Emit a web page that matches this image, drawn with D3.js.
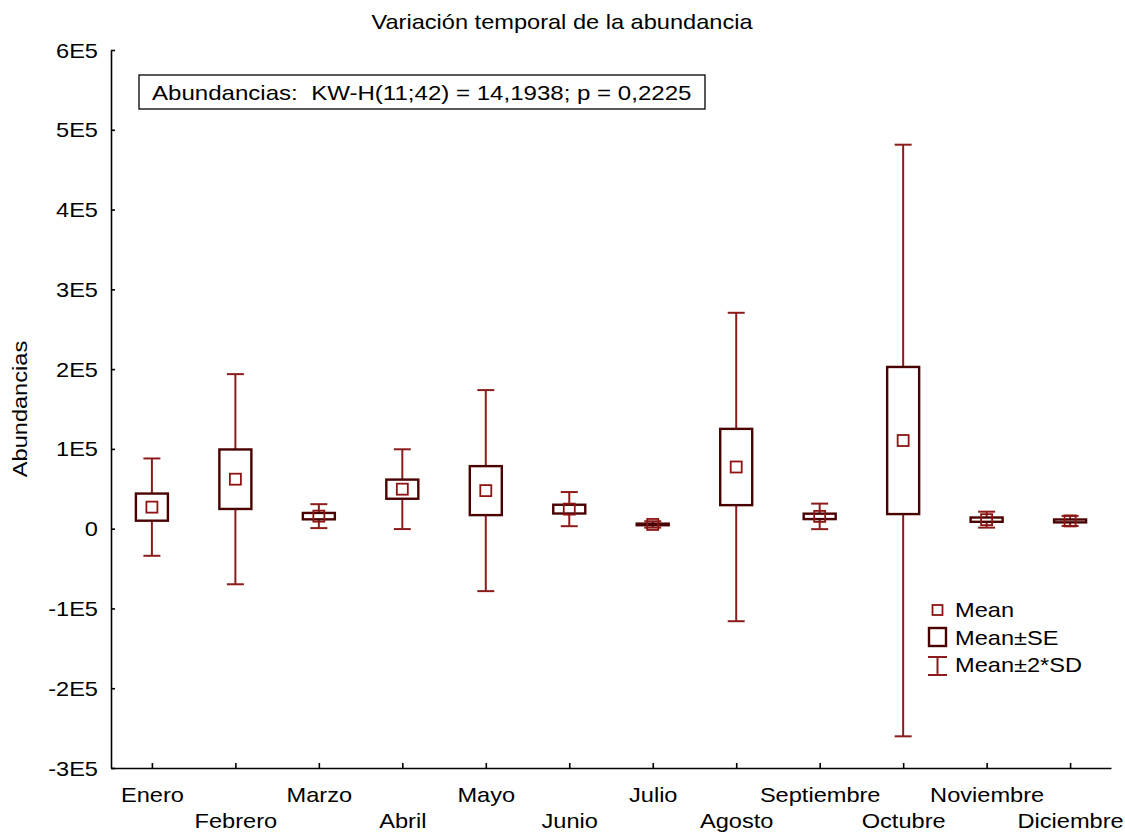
<!DOCTYPE html>
<html>
<head>
<meta charset="utf-8">
<script src="https://cdn.jsdelivr.net/npm/d3@7"></script>
<style>
  body { margin: 0; background: #fff; }
  text { font-family: "Liberation Sans", Arial, sans-serif; fill: #000; white-space: pre; }
</style>
</head>
<body>
<svg id="chart" width="1125" height="835"></svg>
<script>
// months on the x axis
months = ['Enero', 'Febrero', 'Marzo', 'Abril', 'Mayo', 'Junio', 'Julio',
          'Agosto', 'Septiembre', 'Octubre', 'Noviembre', 'Diciembre']
// mean, standard error and 2*SD per month
means = [27000, 62000, 15700, 49500, 47700, 24500, 5300, 77300, 15400, 110500, 11300, 9700]
se    = [17000, 37300, 4000, 12000, 30700, 5500, 1000, 47800, 3400, 92200, 2700, 1800]
sd2   = [61000, 131700, 15000, 50000, 126000, 21400, 4000, 193300, 16000, 370800, 10000, 6300]
yTicks = [-3e5, -2e5, -1e5, 0, 1e5, 2e5, 3e5, 4e5, 5e5, 6e5]
yTickLabels = ['-3E5', '-2E5', '-1E5', '0', '1E5', '2E5', '3E5', '4E5', '5E5', '6E5']
legendLabels = ['Mean', 'Mean\u00b1SE', 'Mean\u00b12*SD']
statsText = 'Abundancias:  KW-H(11;42) = 14,1938; p = 0,2225'
title = 'Variaci\u00f3n temporal de la abundancia'
yLabel = 'Abundancias'

whiskerColour = '#8c1c1c'
boxColour = '#4a0000'
meanColour = '#8e1414'
fs = 20
sx = 1.18

svg = d3.select('#chart')

x = d3.scaleLinear().domain([0.51, 12.49]).range([111, 1111])
y = d3.scaleLinear().domain([-3e5, 6e5]).range([768, 50])

function label(g, tx, ty, str, anchor, size) {
  return g.append('text')
          .attr('transform', 'translate(' + tx + ',' + ty + ') scale(' + sx + ',1)')
          .attr('text-anchor', anchor || 'start')
          .style('font-size', (size || fs) + 'px')
          .text(str)
}

// axes
yAxis = svg.append('g')
           .attr('transform', 'translate(111,0)')
           .call(d3.axisLeft(y)
                   .tickValues(yTicks)
                   .tickFormat(function(d, i) { return yTickLabels[i] })
                   .tickSizeInner(-4)
                   .tickSizeOuter(0)
                   .tickPadding(13))
yAxis.selectAll('text').remove()
yAxis.selectAll('.tick').each(function(d, i) {
  label(d3.select(this), -13, 7, yTickLabels[i], 'end')
})

xAxis = svg.append('g')
           .attr('transform', 'translate(0,768)')
           .call(d3.axisBottom(x)
                   .tickValues(d3.range(1, 13))
                   .tickSizeInner(-5)
                   .tickSizeOuter(0))
xAxis.selectAll('text').remove()
xAxis.selectAll('.tick').each(function(d, i) {
  label(d3.select(this), 0, (i % 2 == 0) ? 34 : 60, months[i], 'middle')
})

svg.selectAll('.domain, .tick line')
   .attr('stroke', '#000')
   .attr('stroke-width', 1.6)

// whiskers (mean +- 2*SD)
groups = svg.append('g').selectAll('g')
            .data(months)
            .enter()
            .append('g')

groups.append('line')
      .attr('x1', function(d, i) { return x(i + 1) })
      .attr('x2', function(d, i) { return x(i + 1) })
      .attr('y1', function(d, i) { return y(means[i] + sd2[i]) })
      .attr('y2', function(d, i) { return y(means[i] - sd2[i]) })
      .attr('stroke', whiskerColour)
      .attr('stroke-width', 2)

;[1, -1].forEach(function(sign) {
  groups.append('line')
        .attr('x1', function(d, i) { return x(i + 1) - 8.5 })
        .attr('x2', function(d, i) { return x(i + 1) + 8.5 })
        .attr('y1', function(d, i) { return y(means[i] + sign * sd2[i]) })
        .attr('y2', function(d, i) { return y(means[i] + sign * sd2[i]) })
        .attr('stroke', whiskerColour)
        .attr('stroke-width', 2)
})

// boxes (mean +- SE)
groups.append('rect')
      .attr('x', function(d, i) { return x(i + 1) - 16 })
      .attr('width', 32)
      .attr('y', function(d, i) { return y(means[i] + se[i]) })
      .attr('height', function(d, i) { return y(means[i] - se[i]) - y(means[i] + se[i]) })
      .attr('fill', '#fff')
      .attr('stroke', boxColour)
      .attr('stroke-width', 2.4)

// mean markers
groups.append('rect')
      .attr('x', function(d, i) { return x(i + 1) - 5.5 })
      .attr('y', function(d, i) { return y(means[i]) - 5.5 })
      .attr('width', 11)
      .attr('height', 11)
      .attr('fill', 'none')
      .attr('stroke', meanColour)
      .attr('stroke-width', 1.8)

// stats box
svg.append('rect')
   .attr('x', 139)
   .attr('y', 75)
   .attr('width', 566)
   .attr('height', 34)
   .attr('fill', '#fff')
   .attr('stroke', '#000')
   .attr('stroke-width', 1.3)
label(svg, 152, 100, statsText, 'start', 20.4)

// title and y label
label(svg, 562, 29, title, 'middle')
svg.append('text')
   .attr('transform', 'translate(27,409) rotate(-90) scale(' + sx + ',1)')
   .attr('text-anchor', 'middle')
   .style('font-size', fs + 'px')
   .text(yLabel)

// legend
legend = svg.append('g')
legend.append('rect')
      .attr('x', 932.5).attr('y', 605).attr('width', 10).attr('height', 10)
      .attr('fill', 'none').attr('stroke', meanColour).attr('stroke-width', 1.8)
legend.append('rect')
      .attr('x', 929).attr('y', 628).attr('width', 17).attr('height', 18)
      .attr('fill', 'none').attr('stroke', boxColour).attr('stroke-width', 2.4)
legend.append('path')
      .attr('d', 'M928,657H947M937.5,657V675M928,675H947')
      .attr('fill', 'none').attr('stroke', whiskerColour).attr('stroke-width', 2)
legendLabels.forEach(function(t, i) {
  label(legend, 955, 617 + i * 27.5, t)
})
</script>
</body>
</html>
